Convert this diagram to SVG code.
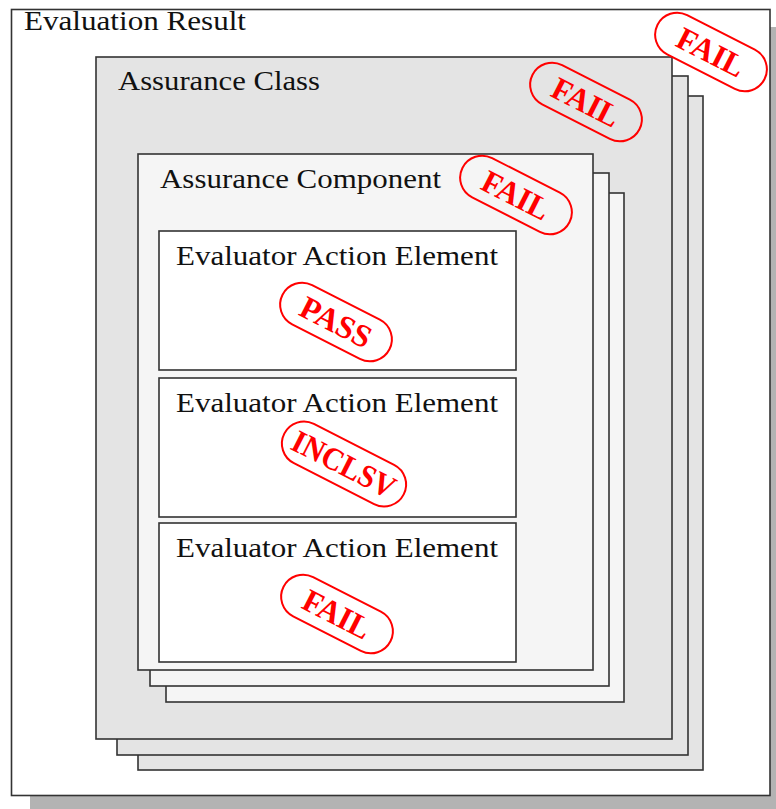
<svg xmlns="http://www.w3.org/2000/svg" width="776" height="809" viewBox="0 0 776 809">
<style>
.box{stroke:#333;stroke-width:1.6}
.outer{fill:#fff}
.cls{fill:#e4e4e4}
.cmp{fill:#f5f5f5}
.eae{fill:#fff}
.lbl{font-family:"Liberation Serif","Times New Roman",serif;font-size:27px;fill:#111}
.stamp rect{fill:none;stroke:#f00;stroke-width:2}
.stamp text{font-family:"Liberation Serif","Times New Roman",serif;font-weight:bold;font-size:32px;fill:#f00;text-anchor:middle}
</style>
<rect x="30" y="27" width="760" height="790" fill="#b3b3b3"/>
<g id="evaluation-result">
<rect class="box outer" x="11.5" y="9.5" width="758.5" height="786"/>
<text class="lbl" x="24" y="30" textLength="222" lengthAdjust="spacingAndGlyphs">Evaluation Result</text>
</g>
<g id="assurance-class">
<rect class="box cls" x="138" y="96" width="565" height="674"/>
<rect class="box cls" x="117" y="76" width="571" height="679"/>
<rect class="box cls" x="96" y="57" width="576" height="682"/>
<text class="lbl" x="118" y="90" textLength="202" lengthAdjust="spacingAndGlyphs">Assurance Class</text>
</g>
<g id="assurance-component">
<rect class="box cmp" x="166" y="193" width="458" height="509"/>
<rect class="box cmp" x="150" y="173" width="459" height="513"/>
<rect class="box cmp" x="138" y="154" width="455" height="516"/>
<text class="lbl" x="160" y="188" textLength="281" lengthAdjust="spacingAndGlyphs">Assurance Component</text>
</g>
<g id="eae-1">
<rect class="box eae" x="159" y="231" width="357" height="139"/>
<text class="lbl" x="176" y="265" textLength="322" lengthAdjust="spacingAndGlyphs">Evaluator Action Element</text>
</g>
<g id="eae-2">
<rect class="box eae" x="159" y="378" width="357" height="139"/>
<text class="lbl" x="176" y="412" textLength="322" lengthAdjust="spacingAndGlyphs">Evaluator Action Element</text>
</g>
<g id="eae-3">
<rect class="box eae" x="159" y="523" width="357" height="139"/>
<text class="lbl" x="176" y="557" textLength="322" lengthAdjust="spacingAndGlyphs">Evaluator Action Element</text>
</g>
<g id="stamp-result" class="stamp" transform="translate(711 52) rotate(27)">
<rect x="-60" y="-22" width="120" height="44" rx="22"/>
<text x="0" y="11" textLength="72" lengthAdjust="spacingAndGlyphs">FAIL</text>
</g>
<g id="stamp-class" class="stamp" transform="translate(586 102) rotate(27)">
<rect x="-60" y="-22" width="120" height="44" rx="22"/>
<text x="0" y="11" textLength="72" lengthAdjust="spacingAndGlyphs">FAIL</text>
</g>
<g id="stamp-component" class="stamp" transform="translate(516 195) rotate(27)">
<rect x="-60" y="-22" width="120" height="44" rx="22"/>
<text x="0" y="11" textLength="72" lengthAdjust="spacingAndGlyphs">FAIL</text>
</g>
<g id="stamp-pass" class="stamp" transform="translate(336 322) rotate(27)">
<rect x="-60" y="-22" width="120" height="44" rx="22"/>
<text x="0" y="11" textLength="76" lengthAdjust="spacingAndGlyphs">PASS</text>
</g>
<g id="stamp-inclsv" class="stamp" transform="translate(344 464) rotate(27)">
<rect x="-67" y="-22" width="134" height="44" rx="22"/>
<text x="0" y="11" textLength="112" lengthAdjust="spacingAndGlyphs">INCLSV</text>
</g>
<g id="stamp-fail" class="stamp" transform="translate(337 614) rotate(27)">
<rect x="-60" y="-22" width="120" height="44" rx="22"/>
<text x="0" y="11" textLength="72" lengthAdjust="spacingAndGlyphs">FAIL</text>
</g>
</svg>
